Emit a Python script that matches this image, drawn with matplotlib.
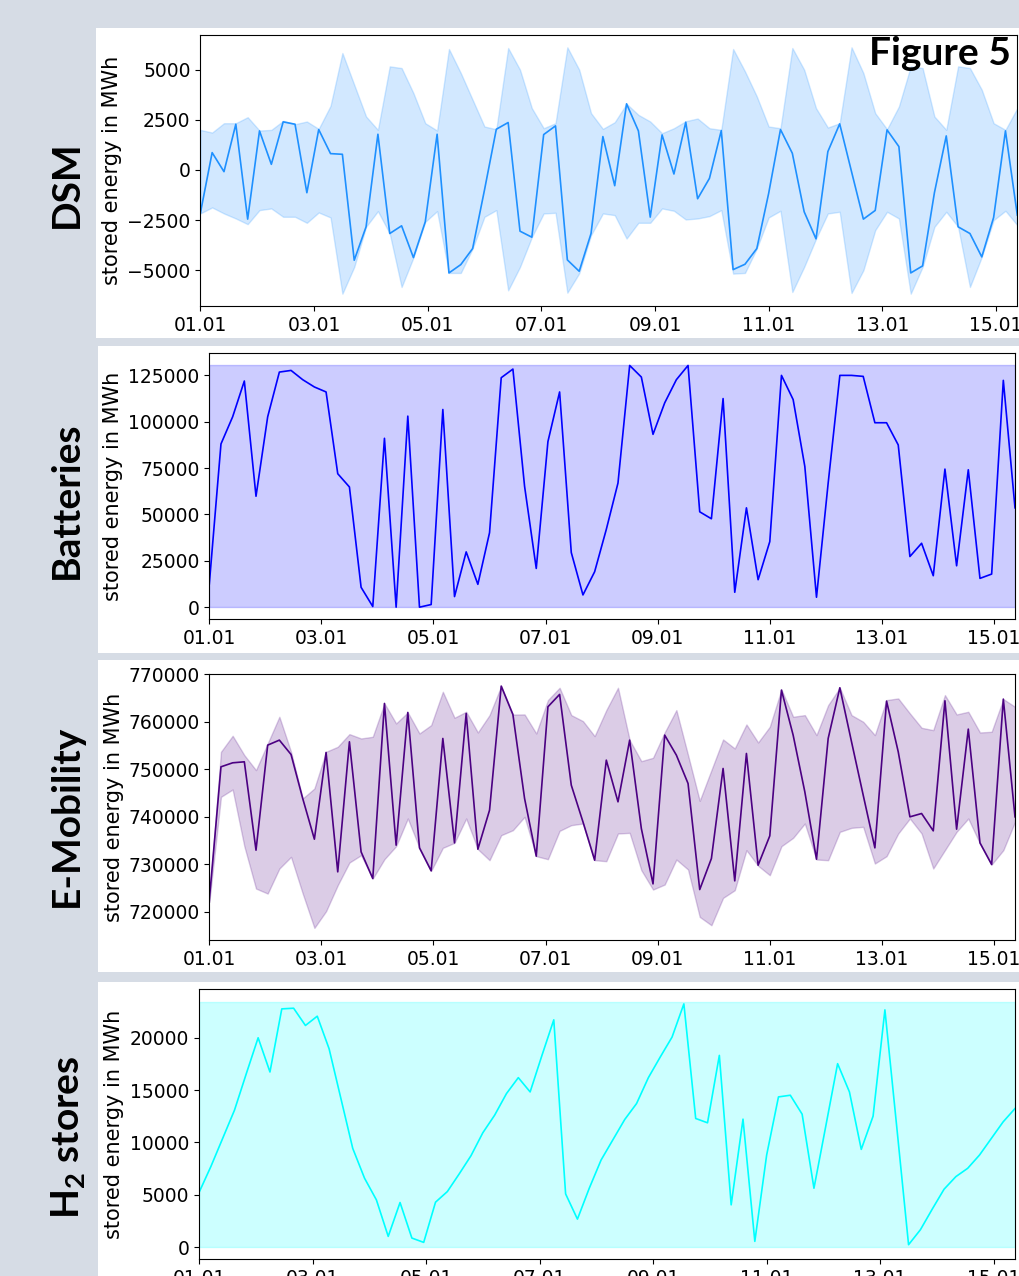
#!/usr/bin/env python
import matplotlib
matplotlib.use("Agg")
import matplotlib.pyplot as plt
import matplotlib.dates as mdates
import matplotlib.patches as mpatches
from matplotlib.ticker import MultipleLocator
import pandas as pd

# time axis: 5-hourly snapshots starting 01.01
start = "2013-01-01"
n_steps = 70
step = "5h"

# DSM: stored energy and band (min/max)
dsm = [-2167, 867, -83, 2283, -2450, 1950, 283, 2400, 2283, -1133,
       2017, 817, 783, -4500, -2833, 1783, -3167, -2783, -4367, -2583,
       1783, -5133, -4717, -3917, -1000, 2033, 2367, -3050, -3350, 1767,
       2200, -4483, -5050, -3167, 1667, -783, 3300, 1950, -2350, 1750,
       -200, 2383, -1433, -417, 1967, -4967, -4700, -3917, -1167, 2017,
       833, -2083, -3433, 917, 2300, -83, -2450, -2017, 2000, 1167,
       -5133, -4783, -1133, 1700, -2833, -3167, -4333, -2367, 1950, -2250]
dsm_upper = [2000, 1867, 2333, 2333, 2633, 1967, 2000, 2450, 2283, 2417,
             2050, 3200, 5833, 4250, 2667, 2000, 5167, 5083, 3833, 2333,
             1967, 6033, 4833, 3500, 2167, 2033, 6083, 5000, 3083, 2083,
             2333, 6117, 5000, 2833, 2050, 2383, 3300, 2750, 2417, 1833,
             2083, 2433, 2567, 2083, 2000, 6033, 4917, 3667, 2167, 2083,
             6083, 5000, 3083, 2117, 2333, 6117, 4833, 2833, 2033, 3167,
             5167, 5083, 2667, 2000, 5167, 5083, 4000, 2333, 2000, 3083]
dsm_lower = [-2167, -1867, -2167, -2417, -2700, -2000, -1917, -2333, -2333, -2633,
             -2117, -2367, -6167, -4833, -2833, -2050, -3167, -5833, -4367, -2583,
             -2050, -5133, -5133, -3917, -2333, -2000, -6000, -4833, -3350, -2167,
             -2133, -6117, -5150, -3250, -2167, -2250, -3417, -2633, -2633, -1917,
             -2033, -2467, -2417, -2300, -2000, -5167, -5133, -3917, -2367, -2033,
             -6083, -4833, -3433, -2167, -2083, -6133, -5000, -3000, -2083, -2417,
             -6167, -4833, -2833, -2083, -2833, -5833, -4333, -2500, -2033, -2750]

# Batteries
batt = [12500, 88036, 102679, 121964, 59821, 102679, 126786, 127679, 122679, 118750,
        116071, 71964, 64821, 10714, 357, 91071, 0, 103036, 0, 1429,
        106607, 5714, 29821, 12321, 40179, 123750, 128400, 65179, 20893, 89286,
        116071, 29464, 6607, 19107, 41964, 66964, 130357, 124107, 93214, 110179,
        122679, 130357, 51429, 47679, 112500, 8036, 53571, 14821, 35357, 125000,
        111964, 75893, 5357, 66964, 125000, 125000, 124464, 99464, 99464, 87500,
        27321, 34464, 16964, 74464, 22321, 74107, 15536, 17857, 122321, 53571]
batt_min = 0
batt_max = 130700

# E-Mobility
emob = [722455, 750507, 751348, 751559, 732974, 755065, 756117, 753101, 743844, 735288,
        753522, 728416, 755766, 732623, 727013, 763831, 734026, 761938, 733465, 728626,
        756468, 734517, 761727, 733184, 741390, 767478, 761500, 743844, 731712, 763130,
        765725, 746651, 738935, 730870, 751909, 743142, 756117, 737532, 725891, 757169,
        752961, 747000, 724699, 731221, 750156, 726522, 753312, 729818, 735990, 766636,
        757169, 745247, 731081, 756468, 767127, 755766, 744546, 733465, 764322, 753663,
        739987, 740688, 737041, 764392, 737392, 758431, 734517, 729958, 764743, 739987]
emob_upper = [722455, 753662, 757028, 752961, 749805, 755415, 761026, 753662, 743844, 745948,
              753662, 754714, 757379, 756468, 756818, 763831, 759623, 761938, 757519, 759272,
              766285, 760815, 762078, 757729, 761377, 767478, 761500, 761517, 757519, 764533,
              767127, 761377, 760115, 756958, 762429, 767127, 756117, 751699, 752400, 757729,
              762429, 752961, 743353, 749805, 756257, 754364, 759413, 755626, 758922, 766777,
              761026, 761377, 757169, 763481, 767127, 761377, 759974, 757169, 764533, 764884,
              761727, 758712, 758221, 765585, 761517, 762078, 757729, 757870, 764743, 763130]
emob_lower = [722100, 744195, 745738, 733815, 724909, 723857, 729117, 731571, 723857, 716634,
              720140, 725610, 730379, 731922, 727013, 731081, 733815, 739636, 733465, 728626,
              733465, 734517, 739636, 733184, 730870, 736130, 737182, 739987, 731712, 731081,
              737041, 738234, 738584, 730870, 730660, 736481, 736621, 728766, 724699, 725751,
              731011, 728907, 718948, 717195, 722945, 724558, 732974, 729700, 727714, 733815,
              735569, 738584, 731011, 730870, 736831, 737673, 737883, 730169, 731712, 736481,
              739636, 736481, 729117, 732974, 736831, 739636, 734377, 729958, 732974, 738935]

# H2 stores
h2 = [5206, 7683, 10381, 13079, 16571, 20000, 16730, 22762, 22825, 21175,
      22063, 18952, 14190, 9429, 6571, 4508, 1016, 4254, 857, 444,
      4286, 5302, 6984, 8730, 10921, 12603, 14667, 16190, 14825, 18317,
      21714, 5079, 2667, 5619, 8317, 10254, 12190, 13714, 16190, 18159,
      20063, 23238, 12286, 11873, 18317, 4032, 12222, 540, 8794, 14349,
      14508, 12698, 5619, 11556, 17524, 14825, 9333, 12508, 22667, 11492,
      222, 1651, 3619, 5524, 6730, 7524, 8794, 10381, 11968, 13238]
h2_min = 0
h2_max = 23460

W, H = 1019, 1276
BG = "#d6dce5"


def px_rect(x0, y0, x1, y1):
    # pixel box (top-left origin) -> figure fraction [left, bottom, width, height]
    return [x0 / W, 1 - y1 / H, (x1 - x0) / W, (y1 - y0) / H]


def style_axis(ax, x, label_x):
    ax.set_xlim(x[0], x[-1])
    ax.xaxis.set_major_locator(mdates.DayLocator(bymonthday=range(1, 32, 2)))
    ax.xaxis.set_major_formatter(mdates.DateFormatter("%d.%m"))
    ax.tick_params(labelsize=13.5)
    ax.set_ylabel("stored energy in MWh", fontsize=15)
    ax.yaxis.set_label_coords(label_x, 0.5)


def main():
    plt.rcParams["mathtext.fontset"] = "custom"
    plt.rcParams["mathtext.rm"] = "Lato:bold"
    plt.rcParams["mathtext.bf"] = "Lato:bold"

    x = pd.date_range(start, periods=n_steps, freq=step)

    fig = plt.figure(figsize=(W / 100, H / 100), dpi=100, facecolor=BG)

    # white slide panels
    for box in [(96, 28, 1019, 338), (98, 346, 1019, 653),
                (98, 660, 1019, 972), (98, 982, 1019, 1276)]:
        l, b, w, h = px_rect(*box)
        fig.add_artist(mpatches.Rectangle((l, b), w, h, transform=fig.transFigure,
                                          facecolor="white", edgecolor="none", zorder=-1))

    # DSM
    ax1 = fig.add_axes(px_rect(200.3, 35, 1017.3, 306))
    ax1.fill_between(x, dsm_lower, dsm_upper, color="dodgerblue", alpha=0.2)
    ax1.plot(x, dsm, color="dodgerblue", lw=1.2)
    ax1.yaxis.set_major_locator(MultipleLocator(2500))
    style_axis(ax1, x, -0.096)

    # Batteries
    ax2 = fig.add_axes(px_rect(209.3, 352.7, 1015, 619.3))
    ax2.fill_between(x, batt_min, batt_max, color="blue", alpha=0.2)
    ax2.plot(x, batt, color="blue", lw=1.2)
    style_axis(ax2, x, -0.107)

    # E-Mobility
    ax3 = fig.add_axes(px_rect(209.3, 674, 1015, 940))
    ax3.fill_between(x, emob_lower, emob_upper, color="indigo", alpha=0.2)
    ax3.plot(x, emob, color="indigo", lw=1.2)
    style_axis(ax3, x, -0.106)

    # H2 stores
    ax4 = fig.add_axes(px_rect(199, 989.3, 1015, 1259.3))
    ax4.fill_between(x, h2_min, h2_max, color="cyan", alpha=0.2)
    ax4.plot(x, h2, color="cyan", lw=1.2)
    style_axis(ax4, x, -0.092)

    # panel labels
    lab = dict(rotation=90, ha="center", va="center", fontsize=28,
               fontweight="bold", family="Lato")
    fig.text(66 / W, 1 - 184 / H, "DSM", **lab)
    fig.text(66 / W, 1 - 500 / H, "Batteries", **lab)
    fig.text(66 / W, 1 - 816 / H, "E-Mobility", **lab)
    fig.text(68 / W, 1 - 1137 / H, r"$\mathrm{H_2}$ stores", **lab)

    fig.text(1011 / W, 1 - 36 / H, "Figure 5", ha="right", va="top", fontsize=28,
             fontweight="bold", family="Lato", zorder=5)

    fig.savefig("out.png", dpi=100, facecolor=BG)
    return


if __name__ == "__main__":
    main()
